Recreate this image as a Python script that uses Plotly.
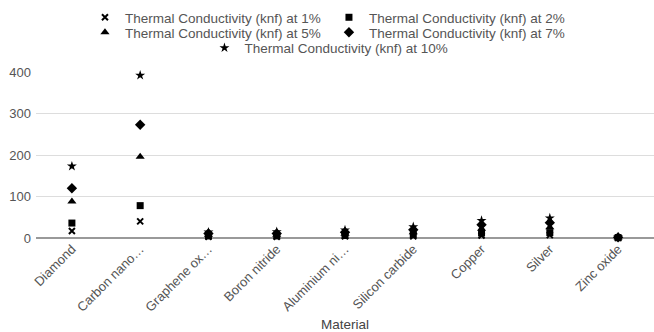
import plotly.graph_objects as go

# Materials and their displayed (truncated) tick labels
materials = ["Diamond", "Carbon nanotubes", "Graphene oxide", "Boron nitride",
             "Aluminium nitride", "Silicon carbide", "Copper", "Silver", "Zinc oxide"]
tick_labels = ["Diamond", "Carbon nano…", "Graphene ox…", "Boron nitride",
               "Aluminium ni…", "Silicon carbide", "Copper", "Silver", "Zinc oxide"]

# Thermal conductivity of the nanofluid (knf) at each volume fraction
knf_1 = [17, 40, 3, 3, 4, 4, 6, 7, 0.5]
knf_2 = [36, 78, 5, 5, 6, 8, 12, 13, 0.8]
knf_5 = [88, 196, 8, 8, 10, 14, 22, 26, 1.2]
knf_7 = [120, 273, 11, 11, 14, 20, 32, 37, 1.6]
knf_10 = [173, 392, 14, 15, 19, 27, 42, 48, 2.2]

FONT = "Liberation Sans, Arial, sans-serif"
TEXT = "#555555"

series = [
    ("Thermal Conductivity (knf) at 1%", knf_1, "x-thin-open", 6, "legend"),
    ("Thermal Conductivity (knf) at 2%", knf_2, "square", 7, "legend"),
    ("Thermal Conductivity (knf) at 5%", knf_5, "triangle-up", 8, "legend2"),
    ("Thermal Conductivity (knf) at 7%", knf_7, "diamond", 8, "legend2"),
    ("Thermal Conductivity (knf) at 10%", knf_10, "star", 7.5, "legend3"),
]

fig = go.Figure()
for name, vals, sym, size, lg in series:
    marker = dict(symbol=sym, size=size, color="black")
    if sym == "x-thin-open":
        marker["line"] = dict(color="black", width=2)
    fig.add_trace(go.Scatter(
        x=materials, y=vals, mode="markers", name=name, legend=lg,
        marker=marker, cliponaxis=False,
    ))

legend_common = dict(
    orientation="h", xref="container", yref="container",
    xanchor="center", yanchor="middle",
    font=dict(size=13.5, color=TEXT, family=FONT),
    bgcolor="rgba(0,0,0,0)", itemsizing="trace",
    tracegroupgap=0, itemwidth=30,
)

fig.update_layout(
    width=654, height=332,
    margin=dict(l=36, r=0, t=72, b=94),
    paper_bgcolor="white", plot_bgcolor="white",
    font=dict(family=FONT, size=13, color=TEXT),
    legend=dict(**legend_common, x=0.503, y=1 - 17.5 / 332, entrywidth=199),
    legend2=dict(**legend_common, x=0.503, y=1 - 32.5 / 332, entrywidth=199),
    legend3=dict(**legend_common, x=0.503, y=1 - 48 / 332),
    xaxis=dict(
        type="category", tickvals=materials, ticktext=tick_labels,
        tickangle=-45, showgrid=False, showline=False, zeroline=False,
        ticks="", automargin=False,
        tickfont=dict(size=13, color=TEXT, family=FONT),
        title=dict(text="Material", font=dict(size=13.5, color="#444444", family=FONT),
                   standoff=8),
    ),
    yaxis=dict(
        range=[0, 400], tickvals=[0, 100, 200, 300, 400],
        showgrid=True, gridcolor="#dddddd", gridwidth=1,
        zeroline=True, zerolinecolor="#999999", zerolinewidth=2,
        showline=False, ticks="", automargin=False, ticklabelstandoff=4,
        tickfont=dict(size=13, color=TEXT, family=FONT),
    ),
)

fig.write_html("out.html")
